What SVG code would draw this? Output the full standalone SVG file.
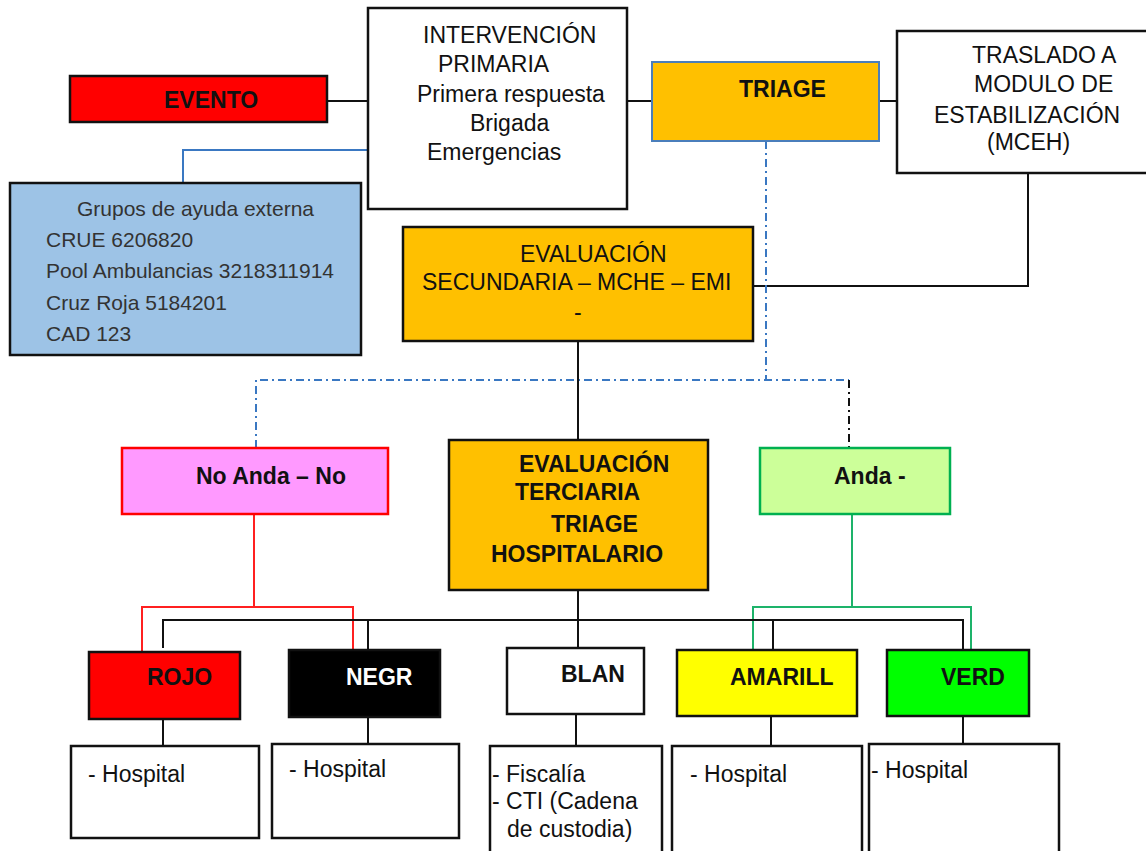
<svg xmlns="http://www.w3.org/2000/svg" width="1146" height="851" viewBox="0 0 1146 851">
<style>
text{font-family:"Liberation Sans",Arial,sans-serif;font-size:23px;fill:#111}
.b{font-weight:bold}
.g{font-size:21px;fill:#333}
.box{stroke:#111;stroke-width:2.5}
.ln{fill:none;stroke:#111;stroke-width:2}
.red{fill:none;stroke:#ff2020;stroke-width:2}
.grn{fill:none;stroke:#1db36a;stroke-width:2}
.blue{fill:none;stroke:#3a78c2;stroke-width:2}
.dd{stroke-dasharray:8 4 2 4}
</style>
<rect width="1146" height="851" fill="#fff"/>
<g id="connectors">
<path class="ln" d="M327,101H368"/>
<path class="ln" d="M627,101H652"/>
<path class="ln" d="M879,101H897"/>
<path class="blue" d="M368,150H183V183"/>
<path class="ln" d="M1028,173V286H753"/>
<path class="blue dd" d="M766,141V380"/>
<path class="blue dd" d="M256,448V380H849"/>
<path class="ln dd" d="M849,380V448"/>
<path class="ln" d="M578,341V440"/>
<path class="red" d="M254,514V607"/>
<path class="red" d="M142,652V607H353V650"/>
<path class="grn" d="M852,514V607"/>
<path class="grn" d="M753,650V607H971V650"/>
<path class="ln" d="M163,648V620H963V650"/>
<path class="ln" d="M368,620V650"/>
<path class="ln" d="M578,590V648"/>
<path class="ln" d="M773,620V650"/>
<path class="ln" d="M163,719V746"/>
<path class="ln" d="M368,717V744"/>
<path class="ln" d="M576,714V746"/>
<path class="ln" d="M771,716V746"/>
<path class="ln" d="M963,716V744"/>
</g>
<g id="evento">
<rect class="box" x="70" y="76" width="257" height="46" fill="#ff0000"/>
<text class="b" x="164" y="108">EVENTO</text>
</g>
<g id="intervencion">
<rect class="box" x="368" y="8" width="259" height="201" fill="#fff"/>
<text x="423" y="43">INTERVENCIÓN</text>
<text x="438" y="72">PRIMARIA</text>
<text x="417" y="102">Primera respuesta</text>
<text x="470" y="131">Brigada</text>
<text x="427" y="160">Emergencias</text>
</g>
<g id="triage">
<rect x="652" y="62" width="227" height="79" fill="#ffc000" stroke="#4a7ebb" stroke-width="2"/>
<text class="b" x="739" y="97">TRIAGE</text>
</g>
<g id="traslado">
<rect class="box" x="897" y="31" width="260" height="142" fill="#fff"/>
<text x="972" y="63">TRASLADO A</text>
<text x="974" y="92">MODULO DE</text>
<text x="934" y="123">ESTABILIZACIÓN</text>
<text x="987" y="150">(MCEH)</text>
</g>
<g id="grupos">
<rect class="box" x="10" y="183" width="351" height="172" fill="#9dc3e6"/>
<text class="g" x="77" y="216">Grupos de ayuda externa</text>
<text class="g" x="46" y="247">CRUE 6206820</text>
<text class="g" x="46" y="278">Pool Ambulancias 3218311914</text>
<text class="g" x="46" y="310">Cruz Roja 5184201</text>
<text class="g" x="46" y="341">CAD 123</text>
</g>
<g id="eval-secundaria">
<rect class="box" x="403" y="227" width="350" height="114" fill="#ffc000"/>
<text x="520" y="262">EVALUACIÓN</text>
<text x="422" y="290">SECUNDARIA – MCHE – EMI</text>
<text x="574" y="320">-</text>
</g>
<g id="eval-terciaria">
<rect class="box" x="449" y="440" width="259" height="150" fill="#ffc000"/>
<text class="b" x="519" y="472">EVALUACIÓN</text>
<text class="b" x="515" y="500">TERCIARIA</text>
<text class="b" x="551" y="532">TRIAGE</text>
<text class="b" x="491" y="562">HOSPITALARIO</text>
</g>
<g id="no-anda">
<rect x="122" y="448" width="266" height="66" fill="#ff99ff" stroke="#ff0000" stroke-width="2.5"/>
<text class="b" x="196" y="484">No Anda – No</text>
</g>
<g id="anda">
<rect x="760" y="448" width="190" height="66" fill="#ccff99" stroke="#00b050" stroke-width="2.5"/>
<text class="b" x="834" y="484">Anda -</text>
</g>
<g id="rojo">
<rect class="box" x="89" y="652" width="151" height="67" fill="#ff0000"/>
<text class="b" x="147" y="685">ROJO</text>
</g>
<g id="negro">
<rect class="box" x="289" y="650" width="151" height="67" fill="#000"/>
<text class="b" x="346" y="685" style="fill:#fff">NEGR</text>
</g>
<g id="blanco">
<rect class="box" x="507" y="648" width="137" height="66" fill="#fff"/>
<text class="b" x="561" y="682">BLAN</text>
</g>
<g id="amarillo">
<rect class="box" x="677" y="650" width="180" height="66" fill="#ffff00"/>
<text class="b" x="730" y="685">AMARILL</text>
</g>
<g id="verde">
<rect class="box" x="887" y="650" width="142" height="66" fill="#00ff00"/>
<text class="b" x="941" y="685">VERD</text>
</g>
<g id="hosp-rojo">
<rect class="box" x="71" y="746" width="188" height="92" fill="#fff"/>
<text x="88" y="782">- Hospital</text>
</g>
<g id="hosp-negro">
<rect class="box" x="272" y="744" width="187" height="94" fill="#fff"/>
<text x="289" y="777">- Hospital</text>
</g>
<g id="hosp-blanco">
<rect class="box" x="490" y="746" width="172" height="120" fill="#fff"/>
<text x="492" y="782">- Fiscalía</text>
<text x="492" y="809">- CTI (Cadena</text>
<text x="507" y="837">de custodia)</text>
</g>
<g id="hosp-amarillo">
<rect class="box" x="672" y="746" width="190" height="120" fill="#fff"/>
<text x="690" y="782">- Hospital</text>
</g>
<g id="hosp-verde">
<rect class="box" x="869" y="744" width="190" height="120" fill="#fff"/>
<text x="871" y="778">- Hospital</text>
</g>
</svg>
